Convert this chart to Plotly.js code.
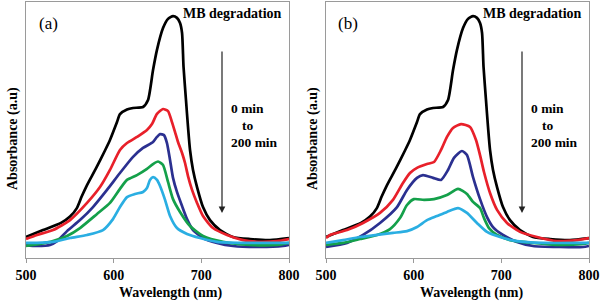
<!DOCTYPE html>
<html><head><meta charset="utf-8">
<script src="https://cdn.plot.ly/plotly-3.0.1.min.js"></script>
<style>html,body{margin:0;padding:0;background:#fff}#chart{width:602px;height:302px}</style>
</head><body><div id="chart"></div>
<script>
// ---------- data (wavelength in nm, absorbance in arbitrary units) ----------
const wlBlack  = [500,519.4,539.9,550.2,558.0,563.5,569.6,579.8,590.1,595.8,603.8,607.2,615.2,622.1,633.5,639.2,644.9,649.4,656.3,662.0,667.7,672.2,675.7,678.0,679.7,682.5,684.8,687.1,690.5,695.1,701.9,709.9,721.3,736.1,755.5,778.3,800];
const absBlack = [0.082,0.109,0.137,0.162,0.195,0.240,0.285,0.350,0.420,0.461,0.531,0.562,0.580,0.586,0.590,0.617,0.734,0.813,0.898,0.934,0.945,0.938,0.918,0.879,0.746,0.617,0.512,0.422,0.344,0.277,0.199,0.148,0.109,0.082,0.074,0.070,0.078];

// panel (a)
const wlRedA  = [500,512.5,530.8,550.2,569.6,584.4,595.8,607.2,615.2,626.6,638.0,643.7,649.4,656.3,662.0,666.5,670.0,673.4,678.0,681.4,684.8,689.4,695.1,701.9,713.3,729.3,747.5,766.9,786.3,800];
const absRedA = [0.074,0.090,0.109,0.148,0.215,0.277,0.344,0.422,0.449,0.473,0.500,0.523,0.563,0.582,0.574,0.531,0.492,0.453,0.410,0.371,0.320,0.266,0.215,0.164,0.117,0.090,0.070,0.063,0.066,0.074];
const wlBlueA  = [500,512.5,527.4,535.4,546.8,561.6,576.4,592.4,607.2,622.1,633.5,644.9,649.4,652.9,657.4,660.8,664.3,667.7,672.2,678.0,683.7,690.5,701.9,717.9,736.1,766.9,793.2,800];
const absBlueA = [0.049,0.047,0.051,0.066,0.105,0.148,0.199,0.266,0.332,0.395,0.430,0.453,0.473,0.484,0.480,0.449,0.383,0.313,0.258,0.203,0.152,0.109,0.078,0.059,0.047,0.043,0.047,0.051];
const wlGreenA  = [500,516.0,530.8,546.8,561.6,581.0,595.8,607.2,615.2,626.6,638.0,644.9,650.6,656.3,662.0,667.7,675.7,687.1,701.9,724.7,755.5,786.3,800];
const absGreenA = [0.047,0.055,0.066,0.086,0.117,0.172,0.215,0.270,0.305,0.324,0.348,0.367,0.377,0.363,0.297,0.230,0.180,0.125,0.086,0.063,0.051,0.051,0.059];
const wlCyanA  = [500,512.5,530.8,550.2,569.6,587.8,599.2,607.2,615.2,624.3,633.5,638.0,641.4,644.9,649.4,652.9,658.6,664.3,672.2,683.7,698.5,717.9,747.5,793.2,800];
const absCyanA = [0.059,0.059,0.063,0.078,0.090,0.109,0.152,0.199,0.238,0.250,0.258,0.273,0.305,0.316,0.305,0.281,0.227,0.164,0.117,0.094,0.078,0.063,0.059,0.059,0.059];

// panel (b)
const wlRedB  = [500,504.6,524.0,542.2,561.6,576.4,587.8,595.8,603.8,615.2,623.2,631.2,638.0,644.9,654.0,664.3,671.1,675.7,680.2,687.1,695.1,706.5,721.3,740.7,763.5,786.3,800];
const absRedB = [0.078,0.090,0.109,0.137,0.176,0.227,0.293,0.332,0.352,0.367,0.375,0.422,0.473,0.508,0.523,0.512,0.461,0.402,0.336,0.254,0.188,0.137,0.102,0.082,0.066,0.070,0.078];
const wlBlueB  = [500,524.0,542.2,561.6,581.0,592.4,603.8,610.6,622.1,631.2,639.2,646.0,655.1,660.8,667.7,675.7,683.7,690.5,701.9,717.9,736.1,766.9,793.2,800];
const absBlueB = [0.043,0.059,0.090,0.137,0.199,0.266,0.313,0.324,0.313,0.305,0.344,0.391,0.418,0.402,0.316,0.230,0.160,0.121,0.090,0.063,0.047,0.043,0.043,0.047];
const wlGreenB  = [500,519.4,538.8,558.2,573.0,584.4,592.4,600.3,611.8,623.2,638.0,650.6,660.8,667.7,675.7,680.2,685.9,695.1,709.9,736.1,766.9,793.2,800];
const absGreenB = [0.051,0.059,0.074,0.090,0.113,0.156,0.207,0.230,0.227,0.230,0.246,0.270,0.250,0.219,0.195,0.156,0.117,0.090,0.070,0.059,0.051,0.055,0.059];
const wlCyanB  = [500,519.4,538.8,558.2,576.4,592.4,603.8,615.2,626.6,638.0,650.6,660.8,672.2,683.7,698.5,717.9,747.5,793.2,800];
const absCyanB = [0.059,0.070,0.082,0.090,0.098,0.105,0.121,0.148,0.164,0.180,0.195,0.176,0.137,0.102,0.082,0.066,0.059,0.059,0.059];

const xTicks = [500,600,700,800];
const xTickText = ['500','600','700','800'];
const panelLabels = ['(a)','(b)'];
const titleText = 'MB degradation';
const timeLines = ['0 min','to','200 min'];
const xTitle = 'Wavelength (nm)';
const yTitle = 'Absorbance (a.u)';

// ---------- styles ----------
const colors = {black:'#000000', red:'#e8202a', blue:'#2b3090', green:'#14a04a', cyan:'#2aaee2'};
const W = 602, H = 302;
const serif = 'Liberation Serif';
const LW = 2.7;
const b = s => '<b>' + s + '</b>';

function tr(x, y, color, xa, ya){
  return {x:x, y:y, type:'scatter', mode:'lines', xaxis:xa, yaxis:ya,
    line:{color:color, width:LW, shape:'spline', smoothing:0.6}, hoverinfo:'skip'};
}
const data = [
  tr(wlBlack, absBlack, colors.black, 'x', 'y'),
  tr(wlRedA, absRedA, colors.red, 'x', 'y'),
  tr(wlBlueA, absBlueA, colors.blue, 'x', 'y'),
  tr(wlGreenA, absGreenA, colors.green, 'x', 'y'),
  tr(wlCyanA, absCyanA, colors.cyan, 'x', 'y'),
  tr(wlBlack, absBlack, colors.black, 'x2', 'y2'),
  tr(wlRedB, absRedB, colors.red, 'x2', 'y2'),
  tr(wlBlueB, absBlueB, colors.blue, 'x2', 'y2'),
  tr(wlGreenB, absGreenB, colors.green, 'x2', 'y2'),
  tr(wlCyanB, absCyanB, colors.cyan, 'x2', 'y2')
];

const axCol = '#9a9a9a';
function xax(dom){
  return {domain:dom, range:[500,800], tickvals:xTicks, ticktext:xTickText.map(b),
    showline:true, mirror:true, linecolor:axCol, linewidth:1.2,
    ticks:'outside', ticklen:4, tickcolor:axCol, tickwidth:1,
    showgrid:false, zeroline:false,
    tickfont:{family:serif, size:14, color:'#000'}};
}
function yax(anchor){
  return {domain:[44/H, 300/H], range:[0,1], anchor:anchor,
    showline:true, mirror:true, linecolor:axCol, linewidth:1.2,
    ticks:'', showticklabels:false, showgrid:false, zeroline:false};
}

function ann(px, py, text, size, xanchor){
  return {xref:'paper', yref:'paper', x:px/W, y:1-py/H, text:text, showarrow:false,
    xanchor:xanchor||'center', yanchor:'middle',
    font:{family:serif, size:size, color:'#000'}};
}

const annotations = [];
[0, 300].forEach((off, i) => {
  annotations.push(ann(48+off, 23, panelLabels[i], 17));
  annotations.push(ann(284+off, 13, b(titleText), 14, 'right'));
  annotations.push(ann(247+off, 109, b(timeLines[0]), 13.5));
  annotations.push(ann(247+off, 125, b(timeLines[1]), 13.5));
  annotations.push(ann(254+off, 142, b(timeLines[2]), 13.5));
  annotations.push(ann(171+off, 293, b(xTitle), 14));
  const ya = ann(13+off, 139, b(yTitle), 14);
  ya.textangle = -90;
  annotations.push(ya);
  annotations.push({xref:'paper', yref:'paper', x:(222+off)/W, y:1-213/H, ax:0, ay:-163,
    axref:'pixel', ayref:'pixel', text:'', showarrow:true, arrowhead:2, arrowsize:1.1,
    arrowwidth:1.2, arrowcolor:'#222'});
});

const layout = {
  width:W, height:H, margin:{l:0, r:0, t:0, b:0},
  paper_bgcolor:'#ffffff', plot_bgcolor:'#ffffff', showlegend:false,
  font:{family:serif},
  xaxis: xax([26/W, 289/W]), yaxis: yax('x'),
  xaxis2: Object.assign(xax([326/W, 589/W]), {anchor:'y2'}),
  yaxis2: yax('x2'),
  annotations: annotations
};
layout.xaxis.anchor = 'y';

Plotly.newPlot('chart', data, layout, {staticPlot:true, displayModeBar:false});
</script>
</body></html>
